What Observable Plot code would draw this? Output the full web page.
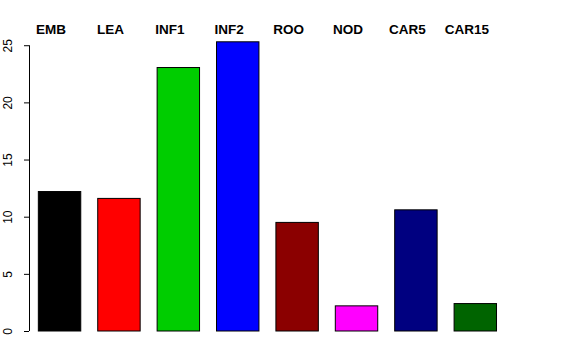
<!DOCTYPE html>
<html>
<head>
<meta charset="utf-8">
<script src="https://cdn.jsdelivr.net/npm/d3@7"></script>
<script src="https://cdn.jsdelivr.net/npm/@observablehq/plot@0.6"></script>
<style>
  html, body { margin: 0; padding: 0; background: #fff; }
  svg { display: block; }
</style>
</head>
<body>
<div id="chart"></div>
<script>
const categories = ["EMB", "LEA", "INF1", "INF2", "ROO", "NOD", "CAR5", "CAR15"];
const values = [12.2, 11.6, 23.05, 25.3, 9.5, 2.2, 10.6, 2.4];
const colors = ["#000000", "#FF0000", "#00CD00", "#0000FF", "#8B0000", "#FF00FF", "#000080", "#006400"];
const yTicks = [0, 5, 10, 15, 20, 25];

const space = 0.4; // gap between bars, in bar widths
const data = categories.map((c, i) => ({
  cat: c,
  value: values[i],
  color: colors[i],
  x1: space + i * (1 + space),
  x2: (i + 1) * (1 + space),
  xc: space + i * (1 + space) + 0.5
}));

const xMin = 0.18, xMax = 11.4;

const chart = Plot.plot({
  width: 576,
  height: 360,
  marginLeft: 29,
  marginRight: 71,
  marginTop: 33.8,
  marginBottom: 29,
  style: { fontFamily: "Liberation Sans, Arial, Helvetica, sans-serif", background: "#fff" },
  x: { domain: [xMin, xMax], axis: null },
  y: { domain: [0, 26], axis: null },
  color: { type: "identity" },
  marks: [
    Plot.rectY(data, { x1: "x1", x2: "x2", y1: 0, y2: "value", fill: "color", stroke: "#000", strokeWidth: 1 }),
    Plot.ruleX([xMin], { y1: 0, y2: 25, stroke: "#000", strokeWidth: 1 }),
    Plot.axisY({ ticks: yTicks, tickSize: 5, tickFormat: () => "", anchor: "left", label: null, stroke: "#000" }),
    Plot.text(yTicks, { x: xMin, y: d => d, text: d => String(d), dx: -21, rotate: -90, textAnchor: "middle", lineAnchor: "middle", fontSize: 12, fill: "#000" }),
    Plot.text(data, { x: "xc", frameAnchor: "top", text: "cat", dx: -9, lineAnchor: "bottom", fontSize: 13.5, fontWeight: "bold", fill: "#000" })
  ]
});

document.getElementById("chart").appendChild(chart);
</script>
</body>
</html>
